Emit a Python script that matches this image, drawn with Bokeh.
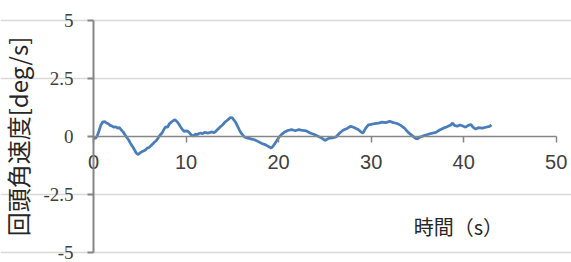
from bokeh.plotting import figure
from bokeh.models import FixedTicker, Label
from bokeh.embed import file_html
from bokeh.resources import INLINE

# time [s]
time_s = [0.0, 0.2, 0.4, 0.6, 0.8, 1.0, 1.2, 1.4, 1.6, 1.8, 2.0, 2.2, 2.4, 2.6, 2.8,
          3.0, 3.2, 3.4, 3.6, 3.8, 4.0, 4.2, 4.4, 4.6, 4.8, 5.0, 5.2, 5.4, 5.6, 5.8,
          6.0, 6.2, 6.4, 6.6, 6.8, 7.0, 7.2, 7.4, 7.6, 7.8, 8.0, 8.2, 8.4, 8.6, 8.8,
          9.0, 9.2, 9.4, 9.6, 9.8, 10.0, 10.2, 10.4, 10.6, 10.8, 11.0, 11.2, 11.4,
          11.6, 11.8, 12.0, 12.4, 12.8, 13.0, 13.2, 13.4, 13.6, 13.8, 14.0, 14.2,
          14.4, 14.6, 14.8, 15.0, 15.2, 15.4, 15.6, 15.8, 16.0, 16.3, 16.6, 17.0,
          17.4, 17.8, 18.2, 18.6, 19.0, 19.2, 19.4, 19.6, 19.8, 20.0, 20.3, 20.6,
          21.0, 21.4, 21.8, 22.2, 22.6, 23.0, 23.4, 23.8, 24.2, 24.6, 25.0, 25.4,
          25.8, 26.2, 26.6, 27.0, 27.4, 27.8, 28.2, 28.6, 28.9, 29.1, 29.4, 29.7,
          30.0, 30.4, 30.8, 31.2, 31.6, 32.0, 32.4, 32.8, 33.2, 33.6, 34.0, 34.4,
          34.8, 35.0, 35.3, 35.8, 36.2, 36.6, 37.0, 37.4, 37.8, 38.2, 38.6, 38.8,
          39.0, 39.3, 39.6, 39.9, 40.2, 40.5, 40.8, 41.0, 41.3, 41.6, 42.0, 42.4,
          42.8, 43.0]

# yaw rate [deg/s]
yaw_rate = [-0.05, -0.08, 0.02, 0.25, 0.50, 0.62, 0.65, 0.58, 0.55, 0.48, 0.45, 0.40,
            0.42, 0.36, 0.38, 0.28, 0.20, 0.08, -0.04, -0.15, -0.30, -0.42, -0.55,
            -0.70, -0.78, -0.72, -0.66, -0.62, -0.58, -0.50, -0.47, -0.40, -0.32,
            -0.24, -0.17, -0.05, 0.06, 0.15, 0.30, 0.42, 0.40, 0.55, 0.62, 0.68, 0.72,
            0.65, 0.55, 0.42, 0.30, 0.22, 0.24, 0.22, 0.15, 0.05, 0.02, 0.10, 0.08,
            0.13, 0.15, 0.12, 0.18, 0.15, 0.20, 0.16, 0.22, 0.30, 0.38, 0.45, 0.52,
            0.62, 0.68, 0.75, 0.82, 0.80, 0.70, 0.58, 0.42, 0.25, 0.12, -0.02, -0.06,
            -0.10, -0.14, -0.22, -0.30, -0.36, -0.45, -0.50, -0.42, -0.30, -0.18,
            -0.05, 0.08, 0.18, 0.26, 0.30, 0.25, 0.30, 0.26, 0.24, 0.15, 0.10, 0.02,
            -0.05, -0.17, -0.08, -0.06, -0.02, 0.15, 0.28, 0.35, 0.44, 0.38, 0.30,
            0.20, 0.14, 0.35, 0.50, 0.52, 0.56, 0.58, 0.62, 0.60, 0.66, 0.60, 0.56,
            0.48, 0.36, 0.18, 0.05, -0.08, -0.10, -0.02, 0.05, 0.10, 0.14, 0.18, 0.28,
            0.36, 0.42, 0.50, 0.58, 0.48, 0.44, 0.50, 0.45, 0.40, 0.48, 0.52, 0.40,
            0.32, 0.38, 0.36, 0.40, 0.44, 0.50]

x_ticks = [0, 10, 20, 30, 40, 50]
y_ticks = [-5, -2.5, 0, 2.5, 5]
y_tick_labels = {-5: "-5", -2.5: "-2.5", 0: "0", 2.5: "2.5", 5: "5"}
y_title = "回頭角速度[deg/s]"
x_title = "時間（s）"

# the plot frame covers the whole canvas; both axes cross at the origin
p = figure(width=571, height=262, output_backend="svg", toolbar_location=None,
           x_range=(-10.05, 51.65), y_range=(-5.43, 5.862),
           min_border_left=0, min_border_right=0, min_border_top=0,
           min_border_bottom=0)
p.outline_line_color = None
p.background_fill_color = "white"
p.border_fill_color = "white"

p.line(time_s, yaw_rate, line_color="#4a7ebb", line_width=2.75)

# y axis at x = 0
ya = p.yaxis[0]
ya.fixed_location = 0
ya.bounds = (-5, 5)
ya.ticker = FixedTicker(ticks=y_ticks)
ya.major_label_overrides = y_tick_labels
ya.axis_label = y_title
ya.axis_label_text_font = "Noto Sans CJK JP"
ya.axis_label_text_font_size = "24px"
ya.axis_label_text_font_style = "normal"
ya.axis_label_text_color = "#262626"
ya.axis_label_standoff = 5
ya.axis_line_color = "#868686"
ya.axis_line_width = 2
ya.major_tick_line_color = "#868686"
ya.major_tick_line_width = 2
ya.major_tick_out = 6
ya.major_tick_in = 0
ya.minor_tick_line_color = None
ya.major_label_text_font = "Liberation Serif"
ya.major_label_text_font_size = "19px"
ya.major_label_text_color = "#404040"
ya.major_label_standoff = 14

# x axis at y = 0
xa = p.xaxis[0]
xa.fixed_location = 0
xa.bounds = (0, 50)
xa.ticker = FixedTicker(ticks=x_ticks)
xa.axis_line_color = "#868686"
xa.axis_line_width = 1.5
xa.major_tick_line_color = "#868686"
xa.major_tick_line_width = 1.5
xa.major_tick_out = 6
xa.major_tick_in = 0
xa.minor_tick_line_color = None
xa.major_label_text_font = "Liberation Sans"
xa.major_label_text_font_size = "20px"
xa.major_label_text_color = "#404040"
xa.major_label_standoff = 12

p.xgrid.visible = False
p.ygrid.ticker = FixedTicker(ticks=[-5, -2.5, 2.5, 5])
p.ygrid.bounds = (0, 50)
p.ygrid.grid_line_color = "#d9d9d9"
p.ygrid.grid_line_width = 1.5

# x axis title
p.add_layout(Label(x=34.6, y=-3.88, text=x_title, text_font="Noto Sans CJK JP",
                   text_font_size="20px", text_color="#262626",
                   text_baseline="middle", text_align="left"))

open("out.html", "w").write(file_html(p, INLINE))
